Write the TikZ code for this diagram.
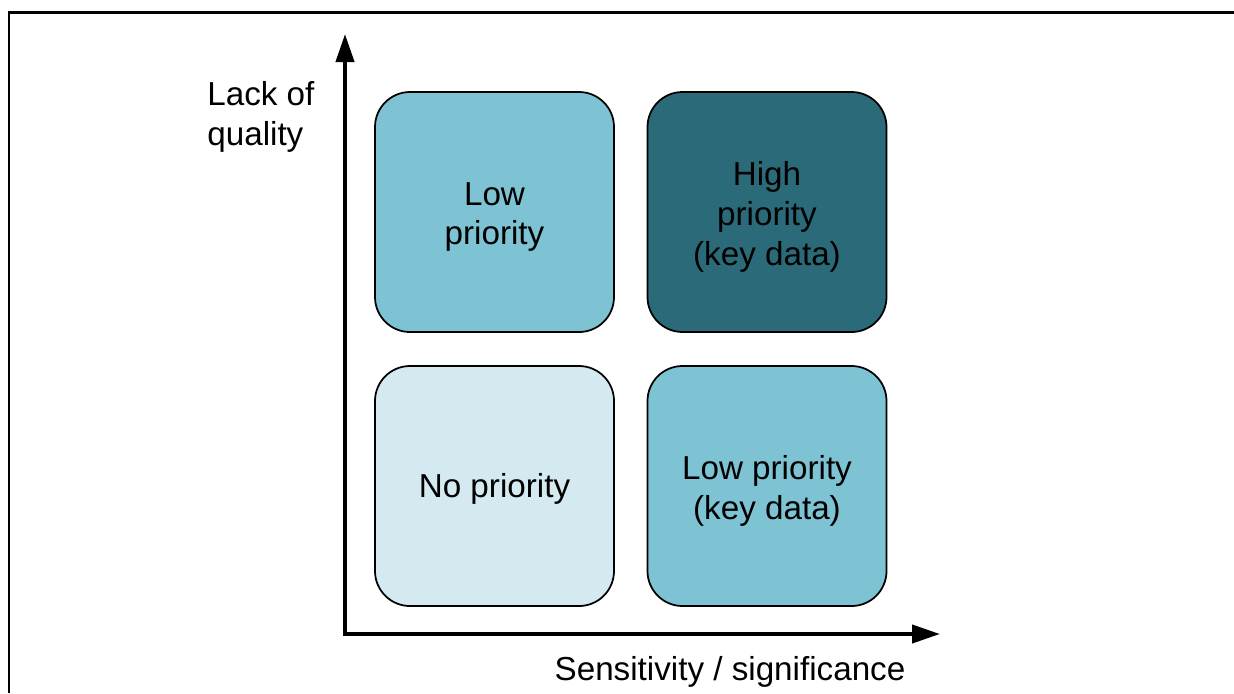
\documentclass[tikz,border=0pt]{standalone}
\usepackage{fontspec}
\setmainfont{Liberation Sans}
\usetikzlibrary{arrows.meta}
\pgfdeclarelayer{edgelayer}
\pgfdeclarelayer{nodelayer}
\pgfsetlayers{edgelayer,nodelayer,main}
\definecolor{midblue}{HTML}{7EC3D3}
\definecolor{darkblue}{HTML}{2B6B79}
\definecolor{paleblue}{HTML}{D4EAF0}
\tikzset{font=\fontsize{18.9}{22.7}\selectfont}
\tikzstyle{none}=[inner sep=0pt]
\tikzstyle{label}=[inner sep=0pt,align=center]
\tikzstyle{quad}=[rounded corners=0.7cm,draw=black,line width=0.035cm,minimum width=4.78cm,minimum height=4.8cm,inner sep=0pt]
\tikzstyle{lowq}=[quad,fill=midblue]
\tikzstyle{highq}=[quad,fill=darkblue]
\tikzstyle{noq}=[quad,fill=paleblue]
\tikzstyle{axis}=[line width=0.08cm,-{Triangle[length=0.56cm,width=0.36cm]}]

\begin{document}
\begin{tikzpicture}[x=0.2cm,y=0.2cm]
	\useasboundingbox (0,0) rectangle (123.4,-69.3);
	% frame
	\draw[line width=0.06cm] (0.9,-69.3) -- (0.9,-1.2) -- (123.4,-1.2);
	\begin{pgfonlayer}{nodelayer}
		\node [style=lowq] (0) at (49.45, -21.2) {};
		\node [style=highq] (1) at (76.7, -21.2) {};
		\node [style=noq] (2) at (49.45, -48.6) {};
		\node [style=lowq] (3) at (76.7, -48.6) {};
		\node [style=label] (4) at ([yshift=-0.1cm]0.center) {Low\\priority};
		\node [style=label] (5) at ([yshift=-0.1cm]1.center) {High\\priority\\(key data)};
		\node [style=label] (6) at ([yshift=-0.06cm]2.center) {No priority};
		\node [style=label] (7) at ([yshift=-0.1cm]3.center) {Low priority\\(key data)};
		\node [style=label, anchor=west, align=left] (8) at (20.7, -11.65) {Lack of\\quality};
		\node [style=label] (9) at (73.0, -67.15) {Sensitivity / significance};
		\node [style=none] (10) at (34.5, -63.4) {};
		\node [style=none] (11) at (34.5, -3.4) {};
		\node [style=none] (12) at (94.0, -63.4) {};
	\end{pgfonlayer}
	\begin{pgfonlayer}{edgelayer}
		\draw [style=axis] ([yshift=-0.04cm]10.center) to (11.center);
		\draw [style=axis] ([xshift=-0.04cm]10.center) to (12.center);
	\end{pgfonlayer}
\end{tikzpicture}
\end{document}
